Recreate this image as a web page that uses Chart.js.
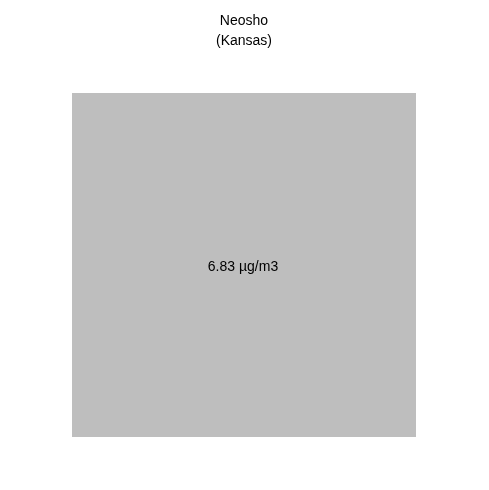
<!DOCTYPE html>
<html>
<head>
<meta charset="utf-8">
<script src="https://cdn.jsdelivr.net/npm/chart.js@4/dist/chart.umd.min.js"></script>
<style>
html,body{margin:0;padding:0;background:#fff;}
#wrap{width:489px;height:490px;}
</style>
</head>
<body>
<div id="wrap"><canvas id="c" width="489" height="490"></canvas></div>
<script>
const titleLines = ['Neosho', '(Kansas)'];
const categories = ['Neosho'];
const values = [6.83];
const unit = 'µg/m3';

Chart.defaults.font.family = 'Arial, "Liberation Sans", sans-serif';
Chart.defaults.color = '#000';

const labelPlugin = {
  id: 'cellLabel',
  afterDatasetsDraw(chart) {
    const ctx = chart.ctx;
    const meta = chart.getDatasetMeta(0);
    meta.data.forEach((bar, i) => {
      const p = bar.getProps(['x', 'y', 'base'], true);
      ctx.save();
      ctx.font = '14px Arial, "Liberation Sans", sans-serif';
      ctx.fillStyle = '#000';
      ctx.textAlign = 'center';
      ctx.textBaseline = 'middle';
      ctx.fillText(values[i].toFixed(2) + ' ' + unit, p.x - 1, (p.y + p.base) / 2 + 2);
      ctx.restore();
    });
  }
};

new Chart(document.getElementById('c'), {
  type: 'bar',
  data: {
    labels: categories,
    datasets: [{
      data: values,
      backgroundColor: '#BEBEBE',
      borderWidth: 0,
      categoryPercentage: 1,
      barPercentage: 1
    }]
  },
  options: {
    responsive: false,
    animation: false,
    layout: { padding: { left: 72, right: 73, top: 0, bottom: 53 } },
    plugins: {
      legend: { display: false },
      tooltip: { enabled: false },
      title: {
        display: true,
        text: titleLines,
        color: '#000',
        font: { size: 14, weight: 'normal', lineHeight: 1.43 },
        padding: { top: 11, bottom: 42 }
      }
    },
    scales: {
      x: { display: false, grid: { display: false } },
      y: { display: false, min: 0, max: values[0], grid: { display: false } }
    }
  },
  plugins: [labelPlugin]
});
</script>
</body>
</html>
